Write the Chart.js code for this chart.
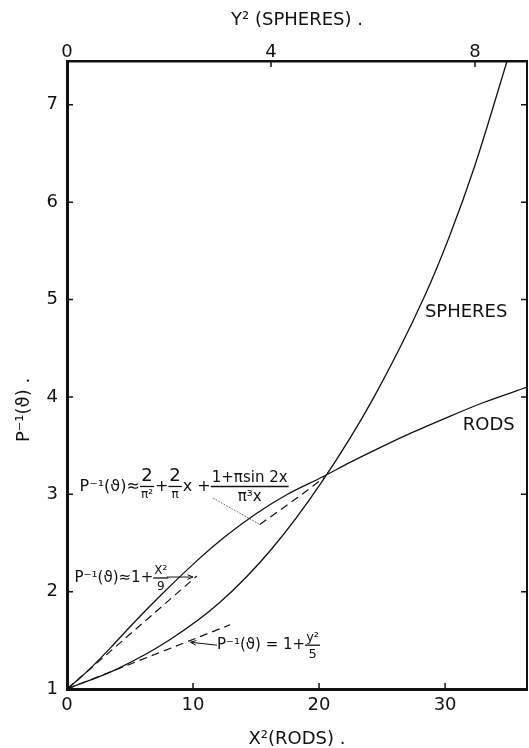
<!DOCTYPE html>
<html>
<head>
<meta charset="utf-8">
<script src="https://cdn.jsdelivr.net/npm/chart.js@4"></script>
<style>
  html, body { margin: 0; padding: 0; background: #fff; }
</style>
</head>
<body>
<canvas id="chart" width="529" height="748"></canvas>
<script>
// Values

// Rods: P^-1 against X^2 (bottom axis)
const rodX2 = [0, 1, 2, 3.5, 5, 7.5, 10, 12.5, 15, 17.5, 20.3, 22.5, 25, 27.5, 30, 33, 36.5];
const rodP = [1, 1.11, 1.23, 1.43, 1.64, 1.97, 2.28, 2.56, 2.8, 3.0, 3.18, 3.33, 3.49, 3.64, 3.78, 3.94, 4.1];

// Spheres: P^-1 against Y^2 (top axis)
const sphY2 = [0, 1, 2, 3, 4, 5, 6, 7, 7.5, 8, 8.63];
const sphP = [1, 1.21, 1.5, 1.89, 2.43, 3.13, 3.98, 5.02, 5.65, 6.38, 7.45];

// Dashed approximations
const rodLimitX2 = [0, 10.3];          // 1 + X^2/9
const rodLimitP = [1, 2.16];
const sphLimitY2 = [0, 3.2];           // 1 + Y^2/5
const sphLimitP = [1, 1.66];
const rodAsymX2 = [15.3, 17.8, 20.4];  // 2/pi^2 + 2x/pi + ...
const rodAsymP = [2.69, 2.92, 3.17];

// Leader lines from the formulas (bottom axis units)
const leader1X2 = [11.6, 15.3];
const leader1P = [2.96, 2.69];
const arrow2X2 = [7.9, 10.0];
const arrow2P = [2.15, 2.15];
const arrow3X2 = [11.9, 9.8];
const arrow3P = [1.45, 1.48];

// Axis ranges and tick labels
const rodTicks = [0, 10, 20, 30];
const sphTicks = [0, 4, 8];
const pTicks = [1, 2, 3, 4, 5, 6, 7];
const x2Max = 36.5;
const y2Max = 9.02;
const pMin = 1;
const pMax = 7.45;

const ink = '#111';
const family = '"DejaVu Sans", sans-serif';

function pts(xs, ys) {
  return xs.map((x, i) => ({ x, y: ys[i] }));
}

function curve(label, xs, ys, xAxisID, dash) {
  return {
    label,
    data: pts(xs, ys),
    xAxisID,
    yAxisID: 'y',
    borderColor: ink,
    borderWidth: dash ? 1.2 : 1.3,
    borderDash: dash || [],
    pointRadius: 0,
    fill: false,
    cubicInterpolationMode: 'monotone'
  };
}

// Draw text made of plain pieces and stacked fractions
function drawFormula(ctx, x, y, parts, size) {
  ctx.save();
  ctx.fillStyle = ink;
  ctx.strokeStyle = ink;
  ctx.textBaseline = 'middle';
  let cx = x;
  parts.forEach(p => {
    if (typeof p === 'string') {
      ctx.font = `${size}px ${family}`;
      ctx.textAlign = 'left';
      ctx.fillText(p, cx, y);
      cx += ctx.measureText(p).width;
    } else {
      const fs = p.size;
      ctx.font = `${fs}px ${family}`;
      const numW = ctx.measureText(p.num).width;
      ctx.font = `${p.denSize || fs}px ${family}`;
      const denW = ctx.measureText(p.den).width;
      const w = Math.max(numW, denW) + 2;
      ctx.textAlign = 'center';
      ctx.font = `${fs}px ${family}`;
      ctx.fillText(p.num, cx + w / 2, y - fs * 0.56);
      ctx.font = `${p.denSize || fs}px ${family}`;
      ctx.fillText(p.den, cx + w / 2, y + (p.denSize || fs) * 0.7);
      ctx.lineWidth = 1.3;
      ctx.beginPath();
      ctx.moveTo(cx, y);
      ctx.lineTo(cx + w, y);
      ctx.stroke();
      cx += w + 1;
    }
  });
  ctx.restore();
}

function drawArrow(ctx, x1, y1, x2, y2) {
  const ang = Math.atan2(y2 - y1, x2 - x1);
  ctx.beginPath();
  ctx.moveTo(x1, y1);
  ctx.lineTo(x2, y2);
  ctx.moveTo(x2 - 6 * Math.cos(ang - 0.4), y2 - 6 * Math.sin(ang - 0.4));
  ctx.lineTo(x2, y2);
  ctx.lineTo(x2 - 6 * Math.cos(ang + 0.4), y2 - 6 * Math.sin(ang + 0.4));
  ctx.stroke();
}

const annotations = {
  id: 'annotations',
  afterDraw(chart) {
    const { ctx, chartArea: a, scales } = chart;
    const px = v => scales.x.getPixelForValue(v);
    const py = v => scales.y.getPixelForValue(v);

    // inward tick marks
    ctx.save();
    ctx.strokeStyle = ink;
    ctx.lineWidth = 1.5;
    ctx.beginPath();
    rodTicks.slice(1).forEach(v => {
      ctx.moveTo(px(v), a.bottom);
      ctx.lineTo(px(v), a.bottom - 6);
    });
    sphTicks.slice(1).forEach(v => {
      const p = scales.x2.getPixelForValue(v);
      ctx.moveTo(p, a.top);
      ctx.lineTo(p, a.top + 6);
    });
    pTicks.slice(1).forEach(v => {
      ctx.moveTo(a.left, py(v));
      ctx.lineTo(a.left + 6, py(v));
      ctx.moveTo(a.right, py(v));
      ctx.lineTo(a.right - 6, py(v));
    });
    ctx.stroke();

    // leader and arrows
    ctx.lineWidth = 0.9;
    ctx.strokeStyle = '#444';
    ctx.setLineDash([1.5, 1.5]);
    ctx.beginPath();
    ctx.moveTo(px(leader1X2[0]), py(leader1P[0]));
    ctx.lineTo(px(leader1X2[1]), py(leader1P[1]));
    ctx.stroke();
    ctx.setLineDash([]);
    ctx.strokeStyle = ink;
    ctx.lineWidth = 1;
    drawArrow(ctx, px(arrow2X2[0]), py(arrow2P[0]), px(arrow2X2[1]), py(arrow2P[1]));
    drawArrow(ctx, px(arrow3X2[0]), py(arrow3P[0]), px(arrow3X2[1]), py(arrow3P[1]));

    // y axis title
    ctx.fillStyle = ink;
    ctx.font = `18px ${family}`;
    ctx.textAlign = 'center';
    ctx.textBaseline = 'middle';
    ctx.translate(24, 410);
    ctx.rotate(-Math.PI / 2);
    ctx.fillText('P\u207B\u00B9(\u03D1) .', 0, 0);
    ctx.restore();

    // curve labels
    ctx.save();
    ctx.fillStyle = ink;
    ctx.font = `18px ${family}`;
    ctx.textBaseline = 'middle';
    ctx.fillText('SPHERES', px(28.4), py(4.87));
    ctx.fillText('RODS', px(31.4), py(3.71));
    ctx.restore();

    // formulas
    drawFormula(ctx, px(1.0), py(3.08), [
      'P\u207B\u00B9(\u03D1)\u2248',
      { num: '2', den: '\u03C0\u00B2', size: 18, denSize: 12 },
      '+',
      { num: '2', den: '\u03C0', size: 18, denSize: 12 },
      'x +',
      { num: '1+\u03C0sin 2x', den: '\u03C0\u00B3x', size: 15 }
    ], 16);
    drawFormula(ctx, px(0.6), py(2.14), [
      'P\u207B\u00B9(\u03D1)\u22481+',
      { num: 'X\u00B2', den: '9', size: 12 }
    ], 15);
    drawFormula(ctx, px(11.9), py(1.45), [
      'P\u207B\u00B9(\u03D1) = 1+',
      { num: 'y\u00B2', den: '5', size: 13 }
    ], 15);
  }
};

const tickFont = { family, size: 18, lineHeight: 1 };
const titleFont = { family, size: 18, lineHeight: 1 };

new Chart(document.getElementById('chart'), {
  type: 'line',
  data: {
    datasets: [
      curve('Rods', rodX2, rodP, 'x'),
      curve('Spheres', sphY2, sphP, 'x2'),
      curve('1 + X²/9', rodLimitX2, rodLimitP, 'x', [8, 5]),
      curve('1 + Y²/5', sphLimitY2, sphLimitP, 'x2', [8, 5]),
      curve('Rods asymptote', rodAsymX2, rodAsymP, 'x', [8, 5])
    ]
  },
  options: {
    responsive: false,
    animation: false,
    devicePixelRatio: 1,
    layout: { padding: 0 },
    plugins: {
      legend: { display: false },
      tooltip: { enabled: false }
    },
    scales: {
      x: {
        type: 'linear',
        position: 'bottom',
        min: 0,
        max: x2Max,
        afterFit: s => { s.height = 59; },
        afterBuildTicks: s => { s.ticks = rodTicks.map(value => ({ value })); },
        ticks: { font: tickFont, color: ink, padding: 7, maxRotation: 0 },
        grid: { display: false, drawTicks: false },
        border: { color: ink, width: 3 },
        title: {
          display: true,
          text: 'X\u00B2(RODS) .',
          color: ink,
          font: titleFont,
          padding: { top: 0, bottom: 0 }
        }
      },
      x2: {
        type: 'linear',
        position: 'top',
        min: 0,
        max: y2Max,
        afterFit: s => { s.height = 61; },
        afterBuildTicks: s => { s.ticks = sphTicks.map(value => ({ value })); },
        ticks: { font: tickFont, color: ink, padding: 0, maxRotation: 0 },
        grid: { display: false, drawTicks: false },
        border: { color: ink, width: 2.5 },
        title: {
          display: true,
          text: 'Y\u00B2 (SPHERES) .',
          color: ink,
          font: titleFont,
          padding: { top: 11, bottom: 0 }
        }
      },
      y: {
        type: 'linear',
        position: 'left',
        min: pMin,
        max: pMax,
        afterFit: s => { s.width = 67; },
        afterBuildTicks: s => { s.ticks = pTicks.map(value => ({ value })); },
        ticks: { font: tickFont, color: ink, padding: 9 },
        grid: { display: false, drawTicks: false },
        border: { color: ink, width: 3 }
      },
      y2: {
        type: 'linear',
        position: 'right',
        min: pMin,
        max: pMax,
        afterFit: s => { s.width = 2; },
        ticks: { display: false },
        grid: { display: false, drawTicks: false },
        border: { color: ink, width: 2 }
      }
    }
  },
  plugins: [annotations]
});
</script>
</body>
</html>
